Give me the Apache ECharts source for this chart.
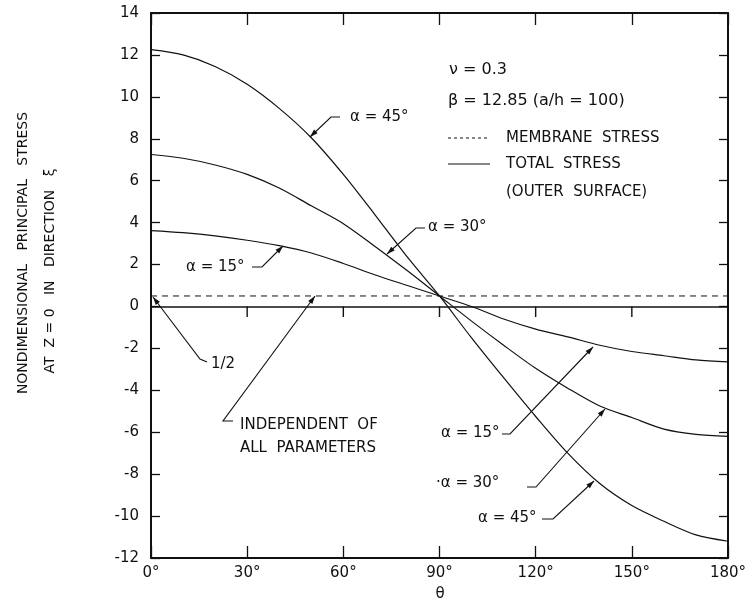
<!DOCTYPE html>
<html>
<head>
<meta charset="utf-8">
<script src="https://cdn.jsdelivr.net/npm/echarts@6/dist/echarts.min.js"></script>
<style>
  html, body { margin: 0; padding: 0; background: #fff; }
  #chart { width: 755px; height: 606px; }
</style>
</head>
<body>
<div id="chart"></div>
<script>
// angle theta in degrees
const theta = [0, 10, 20, 30, 40, 50, 60, 70, 80, 90, 100, 110, 120, 130, 140, 150, 160, 170, 180]
// total stress (outer surface)
const alpha15 = [3.62, 3.52, 3.37, 3.16, 2.9, 2.55, 2.05, 1.5, 1.0, 0.5, 0.0, -0.6, -1.08, -1.45, -1.85, -2.15, -2.35, -2.55, -2.64]
const alpha30 = [7.25, 7.07, 6.75, 6.3, 5.65, 4.8, 3.95, 2.85, 1.7, 0.5, -0.7, -1.85, -2.95, -3.9, -4.75, -5.3, -5.85, -6.1, -6.2]
const alpha45 = [12.25, 12.0, 11.45, 10.6, 9.45, 8.05, 6.3, 4.35, 2.35, 0.5, -1.5, -3.4, -5.25, -7.0, -8.45, -9.5, -10.25, -10.9, -11.2]
// membrane stress, 1/2 everywhere
const membrane = [0.5, 0.5]
const membraneTheta = [0, 180]
// ticks hanging under the zero line
const zeroTicks = [30, 60, 90, 120, 150]

const FONT = 'DejaVu Sans'
const chart = echarts.init(document.getElementById('chart'))

function pairs(xs, ys) {
  return xs.map((x, i) => [x, ys[i]])
}

// leader line with arrowhead at the last point
function leader(pts) {
  const n = pts.length
  const [x1, y1] = pts[n - 2]
  const [x2, y2] = pts[n - 1]
  const a = Math.atan2(y2 - y1, x2 - x1)
  const L = 8, W = 2.6
  const bx = x2 - L * Math.cos(a), by = y2 - L * Math.sin(a)
  return [
    { type: 'polyline', silent: true, shape: { points: pts }, style: { stroke: '#111', lineWidth: 1.1, fill: null } },
    { type: 'polygon', silent: true, shape: { points: [
      [x2, y2],
      [bx - W * Math.sin(a), by + W * Math.cos(a)],
      [bx + W * Math.sin(a), by - W * Math.cos(a)]
    ] }, style: { fill: '#111' } }
  ]
}

function label(text, x, y, size) {
  return { type: 'text', silent: true, x: x, y: y,
    style: { text: text, font: (size || 15) + 'px "' + FONT + '"', fill: '#111', verticalAlign: 'middle' } }
}

const lineStyle = { color: '#111', width: 1.2 }

const graphics = [].concat(
  // curve labels, left
  [label('α = 45°', 350, 117)], leader([[340, 117], [331, 117], [310, 137]]),
  [label('α = 30°', 428, 227)], leader([[425, 228], [416, 228], [387, 254]]),
  [label('α = 15°', 186, 267)], leader([[252, 267], [262, 267], [283, 246]]),
  // curve labels, right
  [label('α = 15°', 441, 433)], leader([[502, 434], [510, 434], [593, 347]]),
  [label('·α = 30°', 436, 483)], leader([[527, 487], [536, 487], [605, 409]]),
  [label('α = 45°', 478, 518)], leader([[542, 519], [553, 519], [594, 481]]),
  // 1/2 and independent
  [label('1/2', 211, 364)], leader([[207, 362], [200, 359], [153, 297]]),
  [label('INDEPENDENT  OF', 240, 425), label('ALL  PARAMETERS', 240, 448)],
  leader([[233, 421], [223, 421], [315, 296]]),
  // key
  [label('ν = 0.3', 449, 70, 16), label('β = 12.85 (a/h = 100)', 448, 101, 16)],
  [{ type: 'line', silent: true, shape: { x1: 448, y1: 138, x2: 490, y2: 138 }, style: { stroke: '#111', lineWidth: 1, lineDash: [3, 3] } },
   label('MEMBRANE  STRESS', 506, 138),
   { type: 'line', silent: true, shape: { x1: 448, y1: 164, x2: 490, y2: 164 }, style: { stroke: '#111', lineWidth: 1 } },
   label('TOTAL  STRESS', 506, 164),
   label('(OUTER  SURFACE)', 506, 192)],
  // axis titles
  [{ type: 'text', silent: true, x: 23, y: 253, rotation: Math.PI / 2,
     style: { text: 'NONDIMENSIONAL   PRINCIPAL   STRESS', font: '14px "' + FONT + '"', fill: '#111', align: 'center', verticalAlign: 'middle' } },
   { type: 'text', silent: true, x: 50, y: 271, rotation: Math.PI / 2,
     style: { text: 'AT  Z = 0   IN   DIRECTION   ξ', font: '14px "' + FONT + '"', fill: '#111', align: 'center', verticalAlign: 'middle' } },
   { type: 'text', silent: true, x: 440, y: 594,
     style: { text: 'θ', font: '15px "' + FONT + '"', fill: '#111', align: 'center', verticalAlign: 'middle' } }]
)

const axisLine = { show: true, onZero: false, lineStyle: { color: '#111', width: 2 } }
const tick = (len) => ({ show: true, inside: true, length: len, lineStyle: { color: '#111', width: 1.3 } })

// each zero-line tick as a tiny two-point line from 0 down to -0.5
const tickSeries = zeroTicks.map(t => ({
  name: 'tick ' + t, type: 'line', symbol: 'none', silent: true,
  lineStyle: { color: '#111', width: 1.4 },
  data: [[t, 0], [t, -0.5]]
}))

chart.setOption({
  animation: false,
  backgroundColor: '#fff',
  textStyle: { fontFamily: FONT },
  grid: { left: 151, right: 27, top: 13, bottom: 48 },
  xAxis: [
    { type: 'value', min: 0, max: 180, interval: 30, position: 'bottom',
      axisLine: axisLine, axisTick: tick(12), splitLine: { show: false },
      axisLabel: { color: '#111', fontSize: 15, margin: 8, formatter: '{value}°' } },
    { type: 'value', min: 0, max: 180, interval: 30, position: 'top',
      axisLine: axisLine, axisTick: tick(12), splitLine: { show: false }, axisLabel: { show: false } }
  ],
  yAxis: [
    { type: 'value', min: -12, max: 14, interval: 2, position: 'left',
      axisLine: axisLine, axisTick: tick(9), splitLine: { show: false },
      axisLabel: { color: '#111', fontSize: 15, margin: 12 } },
    { type: 'value', min: -12, max: 14, interval: 2, position: 'right',
      axisLine: axisLine, axisTick: tick(9), splitLine: { show: false }, axisLabel: { show: false } }
  ],
  series: [
    { name: 'α = 15°', type: 'line', smooth: 0.3, symbol: 'none', lineStyle: lineStyle, data: pairs(theta, alpha15) },
    { name: 'α = 30°', type: 'line', smooth: 0.3, symbol: 'none', lineStyle: lineStyle, data: pairs(theta, alpha30) },
    { name: 'α = 45°', type: 'line', smooth: 0.3, symbol: 'none', lineStyle: lineStyle, data: pairs(theta, alpha45) },
    { name: 'MEMBRANE STRESS', type: 'line', symbol: 'none',
      lineStyle: { color: '#111', width: 1, type: [6, 5] }, data: pairs(membraneTheta, membrane),
      markLine: { silent: true, symbol: ['none', 'none'], label: { show: false },
        lineStyle: { color: '#111', width: 1.6, type: 'solid' }, data: [{ yAxis: 0 }] } }
  ].concat(tickSeries),
  graphic: graphics
})
</script>
</body>
</html>
